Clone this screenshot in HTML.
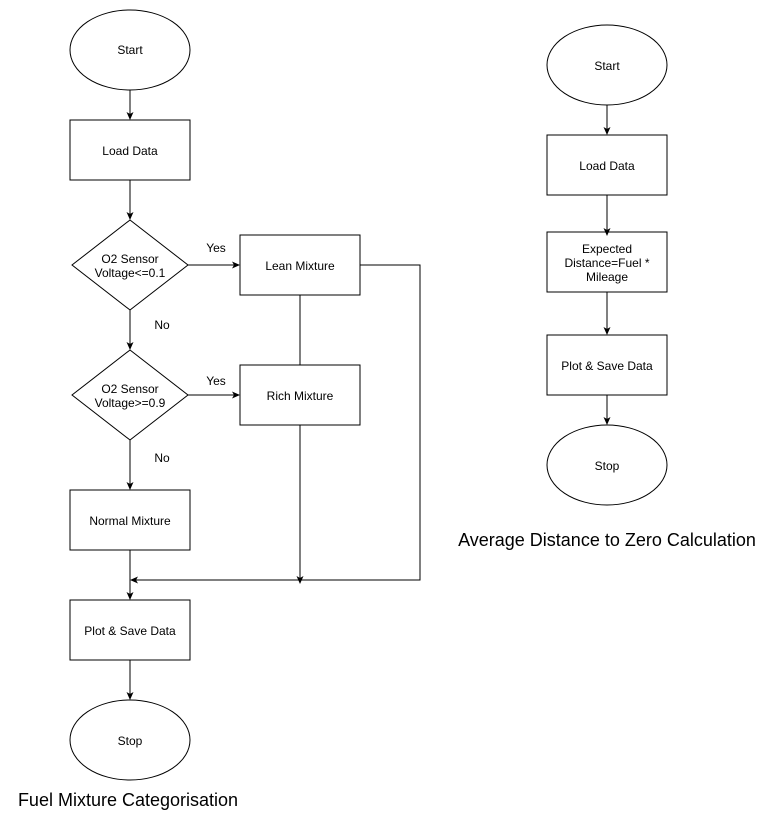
<!DOCTYPE html>
<html><head><style>body{margin:0;background:#fff}svg{display:block}text{font-family:"Liberation Sans",Arial,sans-serif;font-size:12px;fill:#000}</style></head><body>
<svg width="773" height="821" viewBox="0 0 773 821" xmlns="http://www.w3.org/2000/svg">
<defs><marker id="a" markerWidth="8" markerHeight="8" refX="7" refY="4" orient="auto" markerUnits="userSpaceOnUse"><path d="M0,0.5 L8,4 L0,7.5 L2,4 Z" fill="#000"/></marker></defs>
<g fill="#fff" stroke="#000" stroke-width="1">
<ellipse cx="130" cy="50" rx="60" ry="40"/>
<rect x="70" y="120" width="120" height="60"/>
<polygon points="130,220 188,265 130,310 72,265"/>
<rect x="240" y="235" width="120" height="60"/>
<polygon points="130,350 188,395 130,440 72,395"/>
<rect x="240" y="365" width="120" height="60"/>
<rect x="70" y="490" width="120" height="60"/>
<rect x="70" y="600" width="120" height="60"/>
<ellipse cx="130" cy="740" rx="60" ry="40"/>
<ellipse cx="607" cy="65" rx="60" ry="40"/>
<rect x="547" y="135" width="120" height="60"/>
<rect x="547" y="232" width="120" height="60"/>
<rect x="547" y="335" width="120" height="60"/>
<ellipse cx="607" cy="465" rx="60" ry="40"/>
</g>
<g stroke="#000" stroke-width="1" fill="none">
<line x1="130" y1="90" x2="130" y2="119" marker-end="url(#a)"/>
<line x1="130" y1="180" x2="130" y2="219" marker-end="url(#a)"/>
<line x1="188" y1="265" x2="239" y2="265" marker-end="url(#a)"/>
<line x1="130" y1="310" x2="130" y2="349" marker-end="url(#a)"/>
<line x1="188" y1="395" x2="239" y2="395" marker-end="url(#a)"/>
<line x1="130" y1="440" x2="130" y2="489" marker-end="url(#a)"/>
<line x1="300" y1="295" x2="300" y2="365"/>
<line x1="300" y1="425" x2="300" y2="583" marker-end="url(#a)"/>
<polyline points="360,265 420,265 420,580 131,580" marker-end="url(#a)"/>
<line x1="130" y1="550" x2="130" y2="599" marker-end="url(#a)"/>
<line x1="130" y1="660" x2="130" y2="699" marker-end="url(#a)"/>
<line x1="607" y1="105" x2="607" y2="134" marker-end="url(#a)"/>
<line x1="607" y1="195" x2="607" y2="235" marker-end="url(#a)"/>
<line x1="607" y1="292" x2="607" y2="334" marker-end="url(#a)"/>
<line x1="607" y1="395" x2="607" y2="424" marker-end="url(#a)"/>
</g>
<g text-anchor="middle">
<text x="130" y="54">Start</text>
<text x="130" y="155">Load Data</text>
<text x="130" y="263">O2 Sensor</text><text x="130" y="277">Voltage&lt;=0.1</text>
<text x="300" y="270">Lean Mixture</text>
<text x="130" y="393">O2 Sensor</text><text x="130" y="407">Voltage&gt;=0.9</text>
<text x="300" y="400">Rich Mixture</text>
<text x="130" y="525">Normal Mixture</text>
<text x="130" y="635">Plot &amp; Save Data</text>
<text x="130" y="745">Stop</text>
<text x="216" y="252">Yes</text>
<text x="216" y="385">Yes</text>
<text x="162" y="329">No</text>
<text x="162" y="462">No</text>
<text x="607" y="70">Start</text>
<text x="607" y="170">Load Data</text>
<text x="607" y="253">Expected</text><text x="607" y="267">Distance=Fuel *</text><text x="607" y="281">Mileage</text>
<text x="607" y="370">Plot &amp; Save Data</text>
<text x="607" y="470">Stop</text>
<text x="607" y="546" style="font-size:18px">Average Distance to Zero Calculation</text>
<text x="128" y="806" style="font-size:18px">Fuel Mixture Categorisation</text>
</g>
</svg>
</body></html>
